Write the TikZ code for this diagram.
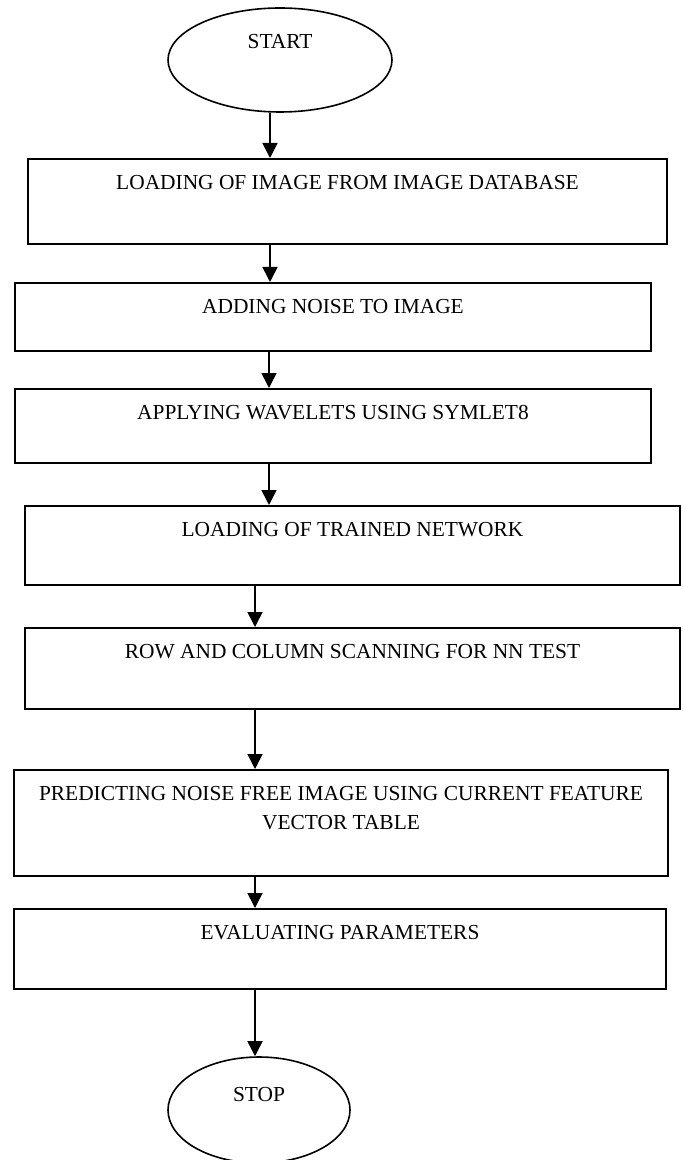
\documentclass[tikz,border=0pt]{standalone}
\usepackage{fontspec}
\setmainfont{Liberation Serif}
\usetikzlibrary {shapes.geometric}
\usetikzlibrary {arrows.meta}

\begin{document}
\begin{tikzpicture}[x=0.5pt,y=-0.5pt,
        every node/.style={font=\fontsize{10.7}{14.5}\selectfont},
        stepbox/.style={rectangle,draw,line width=0.8pt,inner sep=0pt,anchor=north,
                        minimum height=0pt,text height=15.5pt,align=center},
        terminal/.style={ellipse,draw,line width=0.8pt,inner sep=0pt,text height=7pt},
        flow/.style={line width=0.8pt,arrows = -{Triangle[width=7.5pt,length=7.5pt]}}]

            %\draw [help lines] (0,0) grid (682,1160);
            \useasboundingbox (0,0) rectangle (682,1160);

            \path   (280,60) node (start) [terminal,minimum width=112pt,minimum height=52pt,text depth=18pt] {START}
                    (347.5,158) node (load) [stepbox,minimum width=319.5pt,text depth=27pt] {LOADING OF IMAGE FROM IMAGE DATABASE}
                    (333,282) node (noise) [stepbox,minimum width=318pt,text depth=18.5pt] {ADDING NOISE TO IMAGE}
                    (333,388) node (wave) [stepbox,minimum width=318pt,text depth=21.5pt] {APPLYING WAVELETS USING SYMLET8}
                    (352.5,505) node (net) [stepbox,minimum width=327.5pt,text depth=24pt] {LOADING OF TRAINED NETWORK}
                    (352.5,627) node (scan) [stepbox,minimum width=327.5pt,text depth=25pt] {ROW AND COLUMN SCANNING FOR NN TEST}
                    (341,769) node (pred) [stepbox,minimum width=327pt,text height=30pt,text depth=23pt] {PREDICTING NOISE FREE IMAGE USING CURRENT FEATURE\\VECTOR TABLE}
                    (340,908) node (eval) [stepbox,minimum width=326pt,text depth=24.5pt] {EVALUATING PARAMETERS}
                    (259,1110) node (stop) [terminal,minimum width=91pt,minimum height=53pt,text depth=16pt] {STOP};

            % arrow columns
            \coordinate (colA) at (270,0);
            \coordinate (colB) at (269,0);
            \coordinate (colC) at (255,0);

            \draw[flow] (start.south -| colA) -- (load.north -| colA);
            \draw[flow] (load.south -| colA) -- (noise.north -| colA);
            \draw[flow] (noise.south -| colB) -- (wave.north -| colB);
            \draw[flow] (wave.south -| colB) -- (net.north -| colB);
            \draw[flow] (net.south -| colC) -- (scan.north -| colC);
            \draw[flow] (scan.south -| colC) -- (pred.north -| colC);
            \draw[flow] (pred.south -| colC) -- (eval.north -| colC);
            \draw[flow] (eval.south -| colC) -- (stop.north -| colC);

        \end{tikzpicture}
\end{document}
